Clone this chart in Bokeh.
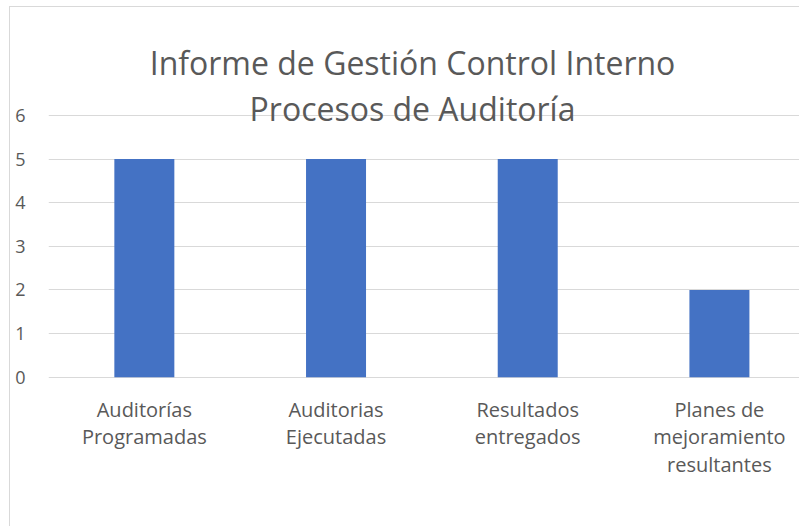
from bokeh.plotting import figure
from bokeh.models import Range1d, FixedTicker, Label
from bokeh.embed import file_html
from bokeh.resources import INLINE

categories = ["Auditorías\nProgramadas", "Auditorias\nEjecutadas", "Resultados\nentregados",
              "Planes de\nmejoramiento\nresultantes"]
values = [5, 5, 5, 2]
y_ticks = [0, 1, 2, 3, 4, 5, 6]
title_lines = ["Informe de Gestión Control Interno", "Procesos de Auditoría"]

FONT = "Open Sans"
GREY = "#595959"

xs = [i + 0.5 for i in range(len(categories))]

# frame covers the title area too (grid lines only at the ticks 0..6)
p = figure(width=790, height=520, output_backend="svg", toolbar_location=None,
           x_range=Range1d(0, 3.923), y_range=Range1d(-0.05, 8.47),
           min_border_left=38, min_border_right=0, min_border_top=0, min_border_bottom=148)
p.outline_line_color = None
p.styles = {"border-left": "1px solid #d9d9d9", "border-top": "1px solid #d9d9d9",
            "margin-left": "9px", "margin-top": "6px"}

p.vbar(x=xs, top=values, width=0.313, color="#4472C4", line_color=None)

p.xgrid.visible = False
p.ygrid.grid_line_color = "#d9d9d9"
p.ygrid.grid_line_width = 1
p.ygrid.ticker = FixedTicker(ticks=y_ticks)

for ax in (p.xaxis, p.yaxis):
    ax.axis_line_color = None
    ax.major_tick_line_color = None
    ax.minor_tick_line_color = None
    ax.major_tick_out = 0
    ax.minor_tick_out = 0
    ax.major_tick_in = 0
    ax.minor_tick_in = 0
    ax.major_label_text_font = FONT
    ax.major_label_text_color = GREY

p.yaxis.ticker = FixedTicker(ticks=y_ticks)
p.yaxis.major_label_standoff = 23
p.yaxis.major_label_text_font_size = "18px"

p.xaxis.ticker = FixedTicker(ticks=xs)
p.xaxis.major_label_overrides = {x: c for x, c in zip(xs, categories)}
p.xaxis.major_label_standoff = 16
p.xaxis.major_label_text_font_size = "20px"
p.xaxis.major_label_text_line_height = 1.03

title_y = [7.213, 6.16]
for t, ty in zip(title_lines, title_y):
    p.add_layout(Label(x=1.899, y=ty, text=t,
                       text_align="center", text_baseline="alphabetic",
                       text_font=FONT, text_font_size="32px", text_color=GREY))

open("out.html", "w").write(file_html(p, INLINE))
